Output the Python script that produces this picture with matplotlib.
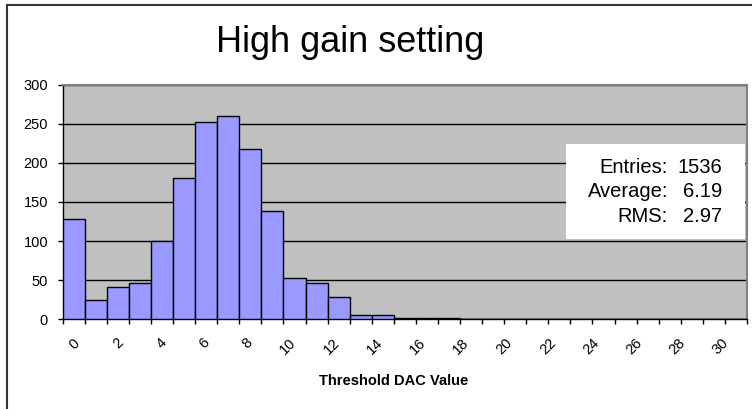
import matplotlib
matplotlib.use("Agg")
import matplotlib.pyplot as plt
from matplotlib.lines import Line2D
from matplotlib.patches import Rectangle
import numpy as np

plt.rcParams['font.family'] = ['Liberation Sans', 'DejaVu Sans']

categories = list(range(31))
counts = [128, 25, 41, 46, 100, 180, 252, 260, 217, 138, 53, 46, 29, 6, 6, 2, 2, 2,
          0, 0, 0, 0, 0, 0, 0, 0, 0, 0, 0, 0, 0]
tick_values = list(range(0, 31, 2))
tick_labels = [str(v) for v in tick_values]
title = "High gain setting"
xlabel = "Threshold DAC Value"
stat_names = ["Entries:", "Average:", "RMS:"]
stat_values = ["1536", "6.19", "2.97"]

W, H = 752, 409
fig = plt.figure(figsize=(W / 100, H / 100), dpi=100)
fig.patch.set_facecolor('white')

# outer chart border (cropped at right/bottom)
fig.add_artist(Line2D([7 / W, 7 / W], [0, 1 - 5 / H], transform=fig.transFigure, color='#333333', lw=1.5))
fig.add_artist(Line2D([7 / W, 1], [1 - 5 / H, 1 - 5 / H], transform=fig.transFigure, color='#333333', lw=1.5))

left, right, top, bottom = 62.7, 747, 84.5, 319.3
ax = fig.add_axes([left / W, 1 - bottom / H, (right - left) / W, (bottom - top) / H])
ax.set_facecolor('#C0C0C0')

ax.bar(categories, counts, width=1.0, color='#9999FF', edgecolor='black', linewidth=1.0, zorder=3)

ax.set_xlim(-0.5, 30.5)
ax.set_ylim(0, 300)
ax.set_yticks(range(0, 301, 50))
ax.tick_params(axis='y', labelsize=10.5, length=3.5, direction='out', width=1, pad=7)
ax.yaxis.grid(True, color='black', linewidth=1, zorder=1)
ax.set_axisbelow(True)

# x: tick marks at bin edges, rotated labels placed like the spreadsheet's
ax.set_xticks(np.arange(-0.5, 31, 1), minor=True)
ax.set_xticks([v * 0.98 - 0.05 for v in tick_values])
ax.set_xticklabels(tick_labels, rotation=45, ha='right', va='top', rotation_mode='anchor', fontsize=10.5)
ax.tick_params(axis='x', which='major', length=0, pad=12)
ax.tick_params(axis='x', which='minor', length=3.5, width=1)

for s in ['left', 'bottom']:
    ax.spines[s].set_color('black')
    ax.spines[s].set_linewidth(1)
for s in ['top', 'right']:
    ax.spines[s].set_color('#808080')
    ax.spines[s].set_linewidth(1.5)

fig.text(350 / W, 1 - 42 / H, title, fontsize=26, ha='center', va='center')
fig.text(394 / W, 1 - 381 / H, xlabel, fontsize=10.5, fontweight='bold', ha='center', va='center')

# stats box
fig.add_artist(Rectangle((566 / W, 1 - 239 / H), (745 - 566) / W, (239 - 144) / H,
                         transform=fig.transFigure, facecolor='white', edgecolor='none', zorder=5))
ys = [167, 192, 217]
for name, val, y in zip(stat_names, stat_values, ys):
    fig.text(668 / W, 1 - y / H, name, fontsize=14.5, ha='right', va='center', zorder=6)
    fig.text(722 / W, 1 - y / H, val, fontsize=14.5, ha='right', va='center', zorder=6)

fig.savefig('out.png', dpi=100)
